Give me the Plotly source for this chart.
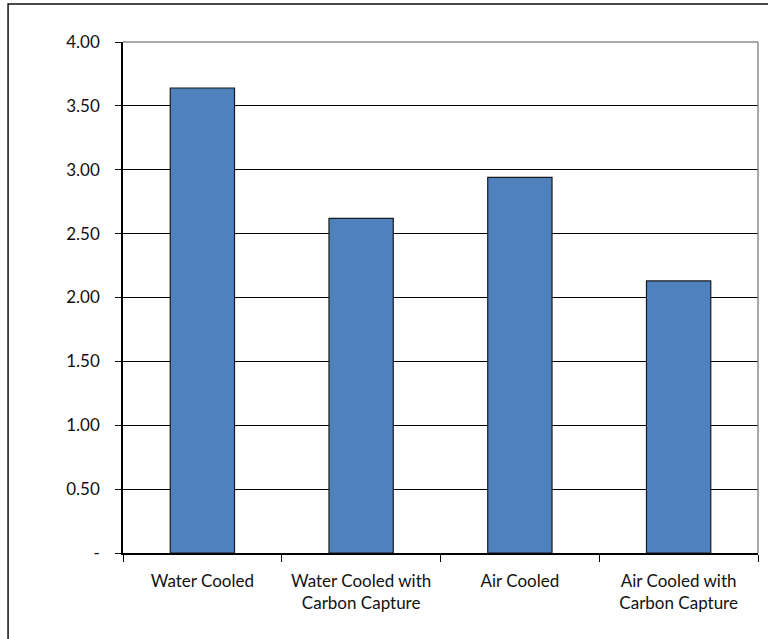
import plotly.graph_objects as go

# Bar chart data
categories = ["Water Cooled", "Water Cooled with<br>Carbon Capture",
              "Air Cooled", "Air Cooled with<br>Carbon Capture"]
values = [3.64, 2.62, 2.94, 2.13]

y_tickvals = [0, 0.5, 1.0, 1.5, 2.0, 2.5, 3.0, 3.5, 4.0]
y_ticktext = ["-", "0.50", "1.00", "1.50", "2.00", "2.50", "3.00", "3.50", "4.00"]

font_family = "Lato, 'Open Sans', sans-serif"

fig = go.Figure(
    go.Bar(
        x=categories,
        y=values,
        marker=dict(color="#4F81BD", line=dict(color="#1a1a1a", width=1.2)),
        width=0.405,
        hoverinfo="x+y",
    )
)

fig.update_layout(
    width=768,
    height=639,
    margin=dict(l=123, r=10, t=42, b=86),
    paper_bgcolor="white",
    plot_bgcolor="white",
    showlegend=False,
    font=dict(family=font_family, size=17, color="#111111"),
    shapes=[
        # outer chart frame
        dict(type="rect", xref="paper", yref="paper",
             x0=-0.181, y0=-0.3, x1=1.1, y1=1.0744,
             line=dict(color="#111111", width=1.5), layer="below"),
        # plot-area border (top and right)
        dict(type="line", xref="paper", yref="paper", x0=0, y0=1, x1=1, y1=1,
             line=dict(color="#8c8c8c", width=1.5), layer="above"),
        dict(type="line", xref="paper", yref="paper", x0=1, y0=0, x1=1, y1=1,
             line=dict(color="#8c8c8c", width=1.5), layer="above"),
    ],
)

fig.update_xaxes(
    type="category",
    showgrid=False,
    showline=True,
    linecolor="black",
    linewidth=1.5,
    ticks="outside",
    tickson="boundaries",
    ticklen=7,
    tickcolor="black",
    tickwidth=1,
    ticklabelstandoff=12,
    tickfont=dict(size=17),
)

fig.update_yaxes(
    range=[0, 4],
    tickvals=y_tickvals,
    ticktext=y_ticktext,
    showgrid=True,
    gridcolor="black",
    gridwidth=1,
    zeroline=False,
    showline=True,
    linecolor="black",
    linewidth=1.5,
    ticks="outside",
    ticklen=6,
    tickcolor="black",
    tickwidth=1,
    ticklabelstandoff=12,
    tickfont=dict(size=17),
)

fig.write_html("out.html")
